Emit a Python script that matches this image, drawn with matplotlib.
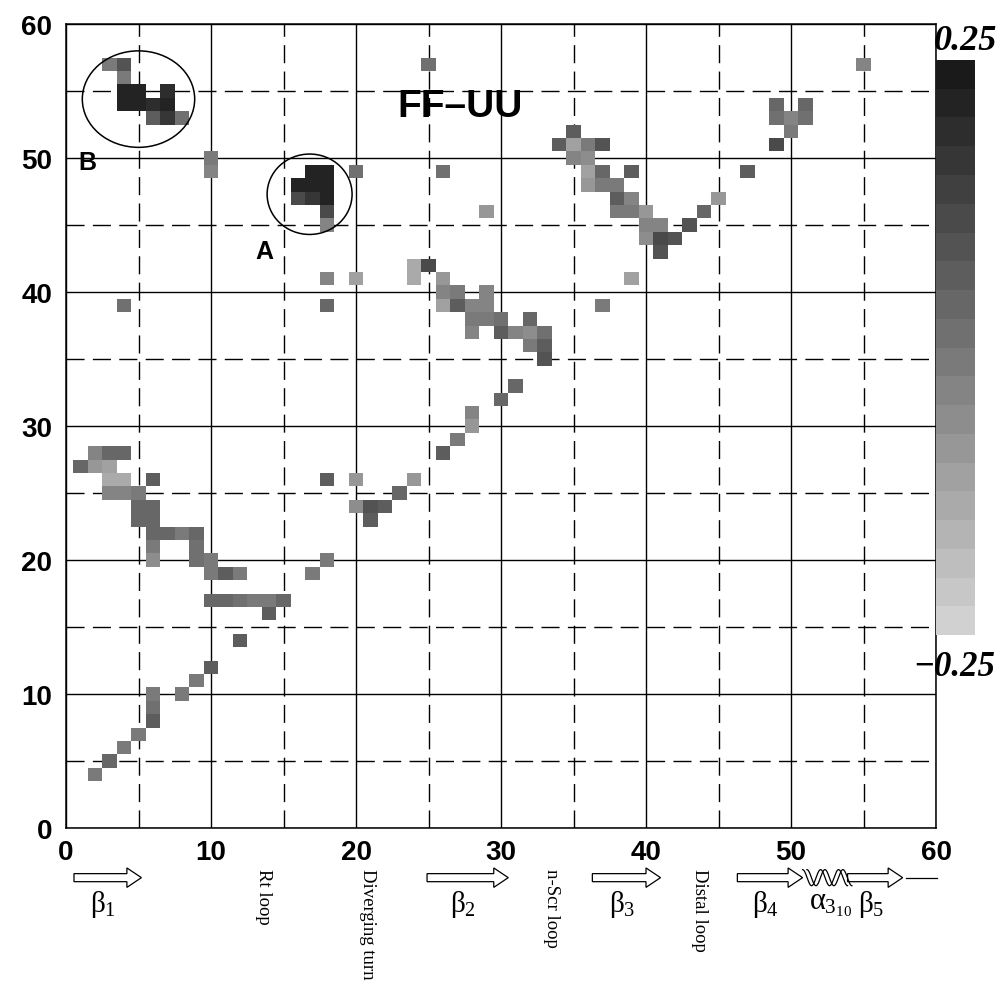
import numpy as np
import matplotlib.pyplot as plt
from matplotlib.colors import ListedColormap
from matplotlib.patches import Ellipse, FancyArrow

plt.rcParams['mathtext.fontset'] = 'custom'
plt.rcParams['mathtext.rm'] = 'Liberation Serif'
plt.rcParams['mathtext.it'] = 'Liberation Serif'

# residue pairs (x = residue i, y = residue j) and correlation value
res_i = [3, 4, 4, 4, 5, 4, 5, 6, 6, 7, 7, 7, 8,
         10, 10,
         16, 16, 17, 17, 17, 18, 18, 18, 18, 18,
         20, 18, 20, 18, 25, 26, 4,
         24, 24, 25, 26, 26, 26, 27, 27, 28, 28, 28, 29, 29, 29, 30, 30, 31, 32, 32, 32, 33, 33, 33, 37,
         31, 30, 28, 28, 27, 26,
         35, 34, 35, 35, 36, 36, 36, 36, 37, 37, 37, 39, 38, 38, 38, 39, 39, 40, 40, 40, 41, 41, 41, 42,
         43, 44, 45, 47, 29, 39,
         55, 49, 49, 50, 50, 51, 51, 49,
         1, 2, 2, 3, 3, 3, 3, 4, 4, 4, 5, 5, 5, 6, 6, 6, 6, 6, 6, 7, 8, 9, 9, 9, 10, 10, 11, 12, 17,
         10, 11, 12, 13, 14, 15, 14, 12,
         10, 9, 8, 6, 6, 6, 5, 4, 3, 2,
         18, 18, 20, 24, 23, 20, 21, 22, 21]
res_j = [57, 57, 56, 55, 55, 54, 54, 54, 53, 55, 54, 53, 53,
         50, 49,
         48, 47, 49, 48, 47, 49, 48, 47, 46, 45,
         49, 41, 41, 39, 57, 49, 39,
         42, 41, 42, 41, 40, 39, 40, 39, 39, 38, 37, 40, 39, 38, 38, 37, 37, 38, 37, 36, 37, 36, 35, 39,
         33, 32, 31, 30, 29, 28,
         52, 51, 51, 50, 51, 50, 49, 48, 51, 49, 48, 49, 48, 47, 46, 47, 46, 46, 45, 44, 45, 44, 43, 44,
         45, 46, 47, 49, 46, 41,
         57, 54, 53, 53, 52, 54, 53, 51,
         27, 28, 27, 28, 27, 26, 25, 28, 26, 25, 25, 24, 23, 26, 24, 23, 22, 21, 20, 22, 22, 22, 21, 20, 20, 19, 19, 19, 19,
         17, 17, 17, 17, 17, 17, 16, 14,
         12, 11, 10, 10, 9, 8, 7, 6, 5, 4,
         20, 26, 26, 26, 25, 24, 24, 24, 23]
corr = [-0.02, 0.08, -0.01, 0.2, 0.2, 0.2, 0.2, 0.18, 0.06, 0.18, 0.2, 0.15, 0.0,
        -0.01, -0.03,
        0.2, 0.1, 0.22, 0.2, 0.15, 0.22, 0.22, 0.2, 0.1, -0.04,
        0.0, -0.03, -0.12, 0.04, 0.0, 0.0, 0.01,
        -0.15, -0.13, 0.12, -0.1, -0.03, -0.12, -0.02, 0.06, -0.03, -0.02, -0.04, -0.04, -0.03, -0.02,
        0.0, 0.05, -0.03, 0.03, -0.07, -0.02, 0.0, 0.05, 0.08, -0.01,
        0.04, 0.04, -0.04, -0.08, -0.02, 0.05,
        0.05, 0.07, -0.12, -0.03, -0.01, -0.07, -0.12, -0.1, 0.08, 0.03, -0.02, 0.06, -0.02, 0.05, -0.02,
        -0.03, -0.02, -0.1, -0.04, -0.07, -0.03, 0.1, 0.08, 0.08,
        0.08, 0.04, -0.08, 0.07, -0.08, -0.12,
        -0.04, 0.03, 0.0, -0.03, -0.02, 0.03, 0.02, 0.12,
        0.04, -0.03, -0.08, 0.03, -0.12, -0.15, -0.03, 0.03, -0.15, -0.04, -0.02, 0.04, 0.03, 0.05, 0.04,
        0.03, 0.03, -0.01, -0.06, 0.03, -0.01, 0.04, 0.02, 0.0, -0.02, -0.01, 0.07, -0.02, -0.01,
        0.04, 0.04, 0.0, -0.01, -0.02, 0.03, 0.05, 0.05,
        0.05, -0.01, -0.01, -0.01, 0.0, 0.05, -0.02, -0.02, 0.03, -0.01,
        -0.02, 0.06, -0.08, -0.08, 0.04, -0.07, 0.08, 0.06, 0.07]

ticks = [0, 10, 20, 30, 40, 50, 60]
strands = [(r'$β_1$', 0.55, 5.2), (r'$β_2$', 24.9, 30.5), (r'$β_3$', 36.3, 41.0),
           (r'$β_4$', 46.3, 50.8), (r'$β_5$', 53.9, 57.7)]
loops = [('Rt loop', 13.6), ('Diverging turn', 20.8), ('n-Scr loop', 33.5), ('Distal loop', 43.7)]

n = 61
grid = np.full((n, n), np.nan)
grid[res_j, res_i] = corr
grid = np.ma.masked_invalid(grid)

levels = np.linspace(0.82, 0.1, 20)
cmap = ListedColormap([(g, g, g) for g in levels])

fig = plt.figure(figsize=(10, 9.87), dpi=100)
ax = fig.add_axes([0.066, 0.160, 0.870, 0.8146])
edges = np.arange(n + 1) - 0.5
mesh = ax.pcolormesh(edges, edges, grid, cmap=cmap, vmin=-0.25, vmax=0.25, zorder=2)

ax.set_xlim(0, 60)
ax.set_ylim(0, 60)
ax.set_xticks(ticks)
ax.set_yticks(ticks)
ax.set_xticks(range(5, 60, 10), minor=True)
ax.set_yticks(range(5, 60, 10), minor=True)
ax.set_axisbelow(True)
ax.grid(which='major', color='black', lw=1.0, ls='-')
ax.grid(which='minor', color='black', lw=1.0, ls=(0, (13, 6)))
ax.tick_params(which='both', length=0)
ax.tick_params(axis='x', pad=8)
ax.tick_params(axis='y', pad=10)
for lab in ax.get_xticklabels() + ax.get_yticklabels():
    lab.set_fontfamily('Liberation Sans')
    lab.set_fontweight('bold')
    lab.set_fontsize(20)
for s in ax.spines.values():
    s.set_linewidth(1.1)

# circled regions
ax.add_patch(Ellipse((5.0, 54.4), 7.75, 7.2, fill=False, ec='black', lw=1.1, zorder=3))
ax.add_patch(Ellipse((16.8, 47.3), 5.86, 6.0, fill=False, ec='black', lw=1.1, zorder=3))
ax.text(1.5, 49.7, 'B', family='Liberation Sans', weight='bold', size=18, ha='center', va='center')
ax.text(13.7, 43.05, 'A', family='Liberation Sans', weight='bold', size=18, ha='center', va='center')
ax.text(27.2, 53.9, 'FF\u2013UU', family='Liberation Sans', weight='bold', size=28,
        ha='center', va='center', zorder=4)

# colorbar
cax = fig.add_axes([0.936, 0.3556, 0.039, 0.5826])
cax.set_zorder(5)
cb = fig.colorbar(mesh, cax=cax)
cb.outline.set_visible(False)
cax.set_yticks([])
fig.text(0.997, 0.958, '0.25', family='Liberation Serif', weight='bold', style='italic',
         size=26, ha='right', va='center')
fig.text(0.995, 0.324, '\u22120.25', family='Liberation Serif', weight='bold', style='italic',
         size=25, ha='right', va='center')

# secondary structure below the x axis
ya = -3.7
for lab, x0, x1 in strands:
    ax.add_patch(FancyArrow(x0, ya, x1 - x0, 0, width=0.6, head_width=1.45, head_length=1.0,
                            length_includes_head=True, fc='white', ec='black', lw=0.9, clip_on=False))
    ax.text((x0 + x1) / 2 - 0.3, -5.6, lab, size=21, ha='center', va='center')
t = np.linspace(0, 1, 200)
hx = 50.8 + 3.1 * t
for off in (0.0, 0.3):
    ax.plot(hx + off, ya + 0.6 * np.sin(2 * np.pi * 2.5 * t + np.pi / 2),
            color='black', lw=0.9, clip_on=False)
ax.plot([57.9, 60.1], [ya, ya], color='black', lw=0.9, clip_on=False)
ax.text(52.7, -5.6, r'$α_{3_{10}}$', size=22, ha='center', va='center')
for lab, x in loops:
    ax.text(x, -3.0, lab, family='Liberation Serif', size=13.5, rotation=270,
            ha='center', va='top', clip_on=False)

fig.savefig('out.png', dpi=100)
